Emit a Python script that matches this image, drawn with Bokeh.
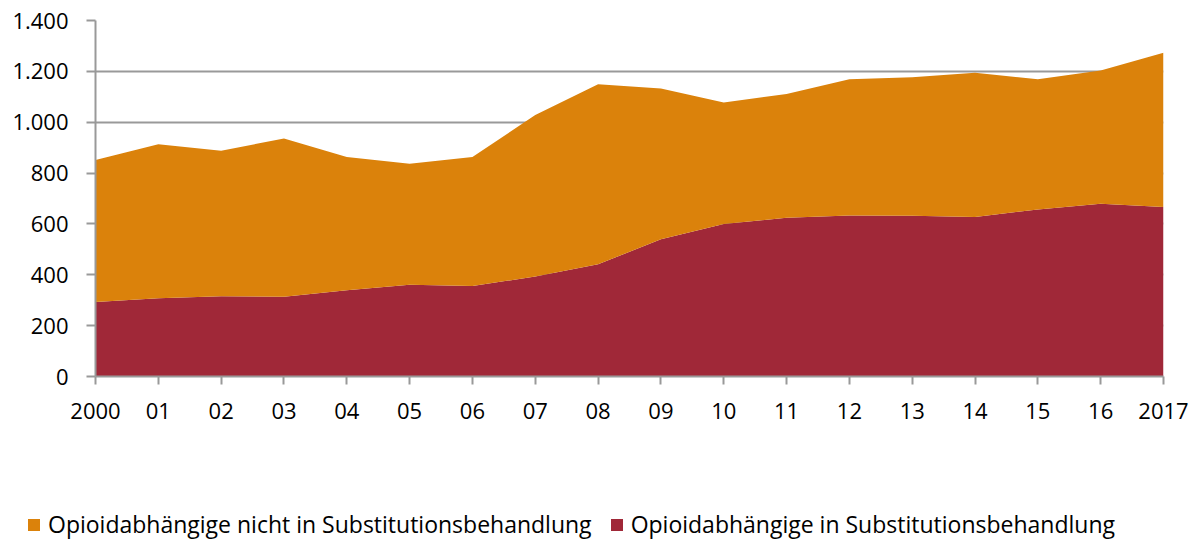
from bokeh.plotting import figure
from bokeh.layouts import column
from bokeh.models import ColumnDataSource, FixedTicker, Legend, LegendItem, Range1d
from bokeh.embed import file_html
from bokeh.resources import INLINE

# ---- data ----
years = list(range(2000, 2018))
in_substitution = [293, 308, 316, 314, 339, 361, 356, 393, 441, 540, 600, 624, 633, 632, 627, 657, 679, 667]
not_in_substitution = [558, 605, 572, 622, 524, 476, 507, 635, 708, 593, 478, 487, 536, 545, 568, 512, 524, 606]
x_tick_labels = ["2000", "01", "02", "03", "04", "05", "06", "07", "08", "09",
                 "10", "11", "12", "13", "14", "15", "16", "2017"]
y_ticks = [0, 200, 400, 600, 800, 1000, 1200, 1400]
y_tick_labels = ["0", "200", "400", "600", "800", "1.000", "1.200", "1.400"]
series_labels = ["Opioidabhängige nicht in Substitutionsbehandlung",
                 "Opioidabhängige in Substitutionsbehandlung"]

ORANGE = "#DB820B"
RED = "#A02838"
GRAY = "#999999"
FONT = "Open Sans"

src = ColumnDataSource(dict(year=years, in_sub=in_substitution, not_sub=not_in_substitution))

W = 1196
p = figure(width=W, height=440, output_backend="svg", toolbar_location=None,
           x_range=Range1d(2000, 2017), y_range=Range1d(0, 1400),
           min_border_left=95, min_border_right=33, min_border_top=20, min_border_bottom=64)
p.outline_line_color = None
p.frame_align = False

rs = p.varea_stack(["in_sub", "not_sub"], x="year", color=[RED, ORANGE], source=src)

# grid
p.xgrid.visible = False
p.ygrid.ticker = FixedTicker(ticks=y_ticks)
p.ygrid.grid_line_color = GRAY
p.ygrid.grid_line_width = 2

# y axis
p.yaxis.ticker = FixedTicker(ticks=y_ticks)
p.yaxis.major_label_overrides = {t: l for t, l in zip(y_ticks, y_tick_labels)}
p.yaxis.axis_line_color = GRAY
p.yaxis.axis_line_width = 2
p.yaxis.major_tick_line_color = GRAY
p.yaxis.major_tick_line_width = 2
p.yaxis.major_tick_out = 9
p.yaxis.major_tick_in = 0
p.yaxis.minor_tick_line_color = None
p.yaxis.major_label_standoff = 18
p.yaxis.major_label_text_font = FONT
p.yaxis.major_label_text_font_size = "22px"
p.yaxis.major_label_text_color = "black"

# x axis
p.xaxis.ticker = FixedTicker(ticks=years)
p.xaxis.major_label_overrides = {y: l for y, l in zip(years, x_tick_labels)}
p.xaxis.axis_line_color = GRAY
p.xaxis.axis_line_width = 2
p.xaxis.major_tick_line_color = GRAY
p.xaxis.major_tick_line_width = 2
p.xaxis.major_tick_out = 8
p.xaxis.major_tick_in = 0
p.xaxis.minor_tick_line_color = None
p.xaxis.major_label_standoff = 18
p.xaxis.major_label_text_font = FONT
p.xaxis.major_label_text_font_size = "22px"
p.xaxis.major_label_text_color = "black"

# ---- legend strip (separate figure below; data kept out of its view) ----
lg = figure(width=W, height=101, output_backend="svg", toolbar_location=None,
            x_range=Range1d(0, 1), y_range=Range1d(0, 1),
            x_axis_type=None, y_axis_type=None,
            min_border_left=0, min_border_right=0, min_border_top=0, min_border_bottom=0)
lg.outline_line_color = None
lg.frame_align = False
lg.xgrid.visible = False
lg.ygrid.visible = False
lrs = lg.varea_stack(["in_sub", "not_sub"], x="year", color=[RED, ORANGE], source=src)

legend = Legend(items=[LegendItem(label=series_labels[0], renderers=[lrs[1]]),
                       LegendItem(label=series_labels[1], renderers=[lrs[0]])],
                orientation="horizontal", location=(26, 1),
                background_fill_alpha=0, border_line_color=None,
                padding=0, margin=0, spacing=17,
                glyph_width=15, glyph_height=15, label_standoff=7,
                label_text_font=FONT, label_text_font_size="23px", label_text_color="black")
lg.add_layout(legend)

open("out.html", "w").write(file_html(column(p, lg, spacing=0), INLINE))
